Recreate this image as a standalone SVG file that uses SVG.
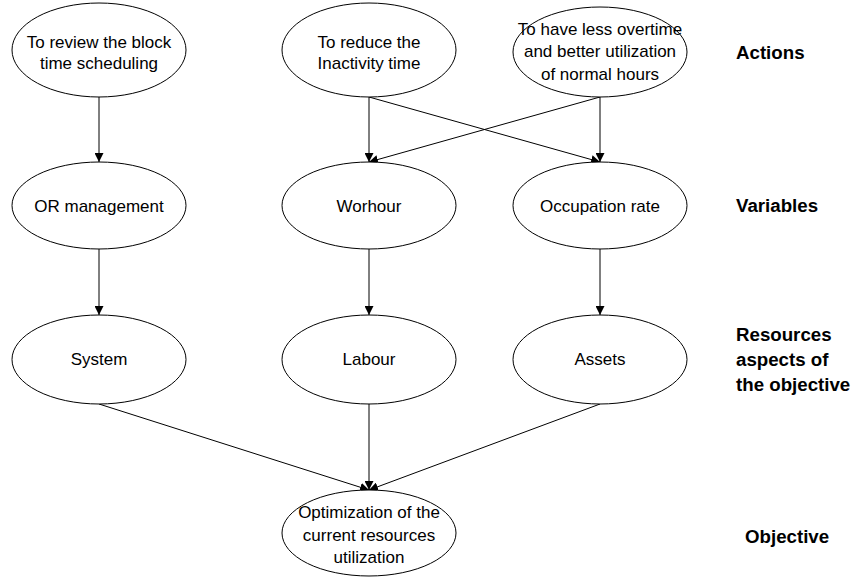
<svg xmlns="http://www.w3.org/2000/svg" width="854" height="577" viewBox="0 0 854 577">
<style>
.node ellipse{fill:#fff;stroke:#000;stroke-width:1}
.node text{font-family:"Liberation Sans",Arial,sans-serif;font-size:17px;fill:#000;text-anchor:middle}
.lbl{font-family:"Liberation Sans",Arial,sans-serif;font-size:18.7px;font-weight:bold;fill:#000}
.conn line{stroke:#000;stroke-width:1;fill:none}
</style>
<defs>
<marker id="arr" viewBox="0 0 10 10" refX="10" refY="5" markerWidth="9" markerHeight="9" markerUnits="userSpaceOnUse" orient="auto">
<path d="M0,0 L10,5 L0,10 z" fill="#000"/>
</marker>
</defs>
<rect width="854" height="577" fill="#fff"/>
<g id="connectors" class="conn" marker-end="url(#arr)">
<line x1="99" y1="97" x2="99" y2="162" marker-end="url(#arr)"/>
<line x1="369" y1="97" x2="369" y2="162" marker-end="url(#arr)"/>
<line x1="369" y1="97" x2="600" y2="162" marker-end="url(#arr)"/>
<line x1="600" y1="97" x2="369" y2="162" marker-end="url(#arr)"/>
<line x1="600" y1="97" x2="600" y2="162" marker-end="url(#arr)"/>
<line x1="99" y1="249" x2="99" y2="315" marker-end="url(#arr)"/>
<line x1="369" y1="249" x2="369" y2="315" marker-end="url(#arr)"/>
<line x1="600" y1="249" x2="600" y2="315" marker-end="url(#arr)"/>
<line x1="99" y1="404" x2="369" y2="490" marker-end="url(#arr)"/>
<line x1="369" y1="404" x2="369" y2="490" marker-end="url(#arr)"/>
<line x1="600" y1="404" x2="369" y2="490" marker-end="url(#arr)"/>
</g>
<g id="review" class="node">
<ellipse cx="99" cy="50" rx="87" ry="47"/>
<text x="99" y="48">To review the block</text>
<text x="99" y="69">time scheduling</text>
</g>
<g id="reduce" class="node">
<ellipse cx="369" cy="50" rx="87" ry="47"/>
<text x="369" y="48">To reduce the</text>
<text x="369" y="69">Inactivity time</text>
</g>
<g id="overtime" class="node">
<ellipse cx="600" cy="52" rx="87" ry="45"/>
<text x="600" y="35">To have less overtime</text>
<text x="600" y="57">and better utilization</text>
<text x="600" y="80">of normal hours</text>
</g>
<g id="ormgmt" class="node">
<ellipse cx="99" cy="205.5" rx="87" ry="43.5"/>
<text x="99" y="212">OR management</text>
</g>
<g id="worhour" class="node">
<ellipse cx="369" cy="205.5" rx="87" ry="43.5"/>
<text x="369" y="212">Worhour</text>
</g>
<g id="occupation" class="node">
<ellipse cx="600" cy="205.5" rx="87" ry="43.5"/>
<text x="600" y="212">Occupation rate</text>
</g>
<g id="system" class="node">
<ellipse cx="99" cy="359.5" rx="87" ry="44.5"/>
<text x="99" y="365">System</text>
</g>
<g id="labour" class="node">
<ellipse cx="369" cy="359.5" rx="87" ry="44.5"/>
<text x="369" y="365">Labour</text>
</g>
<g id="assets" class="node">
<ellipse cx="600" cy="359.5" rx="87" ry="44.5"/>
<text x="600" y="365">Assets</text>
</g>
<g id="optimization" class="node">
<ellipse cx="369" cy="533" rx="87" ry="43"/>
<text x="369" y="518">Optimization of the</text>
<text x="369" y="541">current resources</text>
<text x="369" y="563">utilization</text>
</g>
<g id="labels">
<text class="lbl" x="736" y="59">Actions</text>
<text class="lbl" x="736" y="212">Variables</text>
<text class="lbl" x="736" y="341">Resources</text>
<text class="lbl" x="736" y="366">aspects of</text>
<text class="lbl" x="736" y="391">the objective</text>
<text class="lbl" x="745" y="543">Objective</text>
</g>
</svg>
